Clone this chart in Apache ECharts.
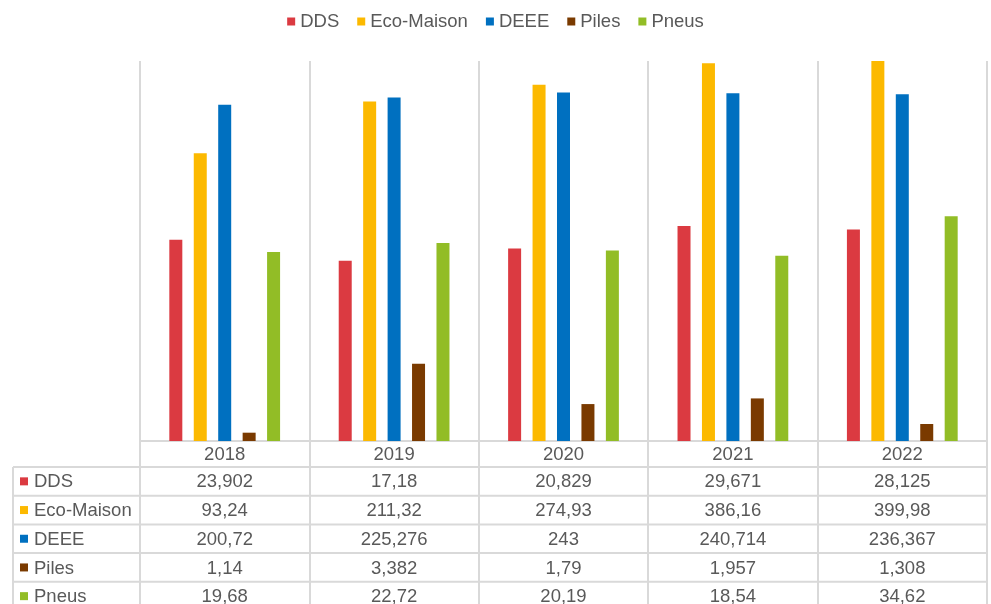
<!DOCTYPE html>
<html>
<head>
<meta charset="utf-8">
<script src="https://cdn.jsdelivr.net/npm/echarts@6/dist/echarts.min.js"></script>
<style>
  html, body { margin: 0; padding: 0; background: #fff; }
  #main { width: 991px; height: 604px; }
</style>
</head>
<body>
<div id="main"></div>
<script>
// données du graphique
const years = ['2018', '2019', '2020', '2021', '2022'];
const seriesNames = ['DDS', 'Eco-Maison', 'DEEE', 'Piles', 'Pneus'];
const dds = [23.902, 17.18, 20.829, 29.671, 28.125];
const ecoMaison = [93.24, 211.32, 274.93, 386.16, 399.98];
const deee = [200.72, 225.276, 243, 240.714, 236.367];
const piles = [1.14, 3.382, 1.79, 1.957, 1.308];
const pneus = [19.68, 22.72, 20.19, 18.54, 34.62];

const allData = [dds, ecoMaison, deee, piles, pneus];
const colors = ['#db3a41', '#fcb900', '#0070c0', '#7a3a00', '#92bd26'];

const LINE = '#d9d9d9';
const TEXT = '#595959';
const FONT = "'Liberation Sans', Arial, sans-serif";
const FS = 18.5;

// mise en page du tableau sous le graphique
const W = 991, H = 604;
const GRID = { left: 140, right: 4, top: 61, bottom: 163, outerBoundsMode: 'none' };
const axisY = H - GRID.bottom;
const HEADER_H = 26;
const ROW_H = 28.7;
const TABLE_LEFT = 13;
const TXT_DY = 1; // petit décalage vertical du texte

// virgule décimale
const fmt = v => String(v).replace('.', ',');

let chart = echarts.init(document.getElementById('main'));

const rowAxes = allData.map((d, i) => ({
  type: 'category',
  data: d.map(fmt),
  position: 'bottom',
  offset: HEADER_H + ROW_H * i + ROW_H / 2 + TXT_DY,
  axisLine: { show: false },
  axisTick: { show: false },
  splitLine: { show: false },
  axisLabel: { interval: 0, margin: 0, verticalAlign: 'middle', color: TEXT, fontSize: FS, fontFamily: FONT }
}));

// lignes et légende à gauche du tableau
const graphics = [];
const right = W - GRID.right;
for (let k = 0; k < 5; k++) {
  const y = axisY + HEADER_H + ROW_H * k;
  graphics.push({
    type: 'line', silent: true,
    shape: { x1: TABLE_LEFT, y1: y, x2: right, y2: y },
    style: { stroke: LINE, lineWidth: 2 }
  });
}
graphics.push({
  type: 'line', silent: true,
  shape: { x1: TABLE_LEFT, y1: axisY + HEADER_H, x2: TABLE_LEFT, y2: H },
  style: { stroke: LINE, lineWidth: 2 }
});
seriesNames.forEach((name, i) => {
  const cy = axisY + HEADER_H + ROW_H * i + ROW_H / 2;
  graphics.push({
    type: 'rect', silent: true,
    shape: { x: 20, y: cy - 4, width: 8, height: 8 },
    style: { fill: colors[i] }
  });
  graphics.push({
    type: 'text', silent: true,
    x: 34, y: cy + TXT_DY,
    style: { text: name, fill: TEXT, font: FS + 'px ' + FONT, verticalAlign: 'middle' }
  });
});

chart.setOption({
  animation: false,
  textStyle: { fontFamily: FONT },
  legend: {
    data: seriesNames,
    top: 7,
    left: 'center',
    icon: 'rect',
    itemWidth: 8,
    itemHeight: 8,
    itemGap: 18,
    textStyle: { color: TEXT, fontSize: FS, fontFamily: FONT }
  },
  grid: GRID,
  xAxis: [
    {
      type: 'category',
      data: years,
      position: 'bottom',
      axisLine: { lineStyle: { color: LINE, width: 2 } },
      axisTick: { show: true, length: GRID.bottom, lineStyle: { color: LINE, width: 2 } },
      splitLine: { show: true, lineStyle: { color: LINE, width: 2 } },
      axisLabel: { interval: 0, margin: HEADER_H / 2 + TXT_DY, verticalAlign: 'middle', color: TEXT, fontSize: FS, fontFamily: FONT }
    },
    ...rowAxes
  ],
  yAxis: {
    type: 'log',
    logBase: 10,
    min: 1,
    max: 400,
    show: false,
    splitLine: { show: false }
  },
  series: seriesNames.map((name, i) => ({
    name: name,
    type: 'bar',
    data: allData[i],
    barWidth: 13,
    barGap: '88%',
    itemStyle: { color: colors[i] }
  })),
  graphic: graphics
});
</script>
</body>
</html>
